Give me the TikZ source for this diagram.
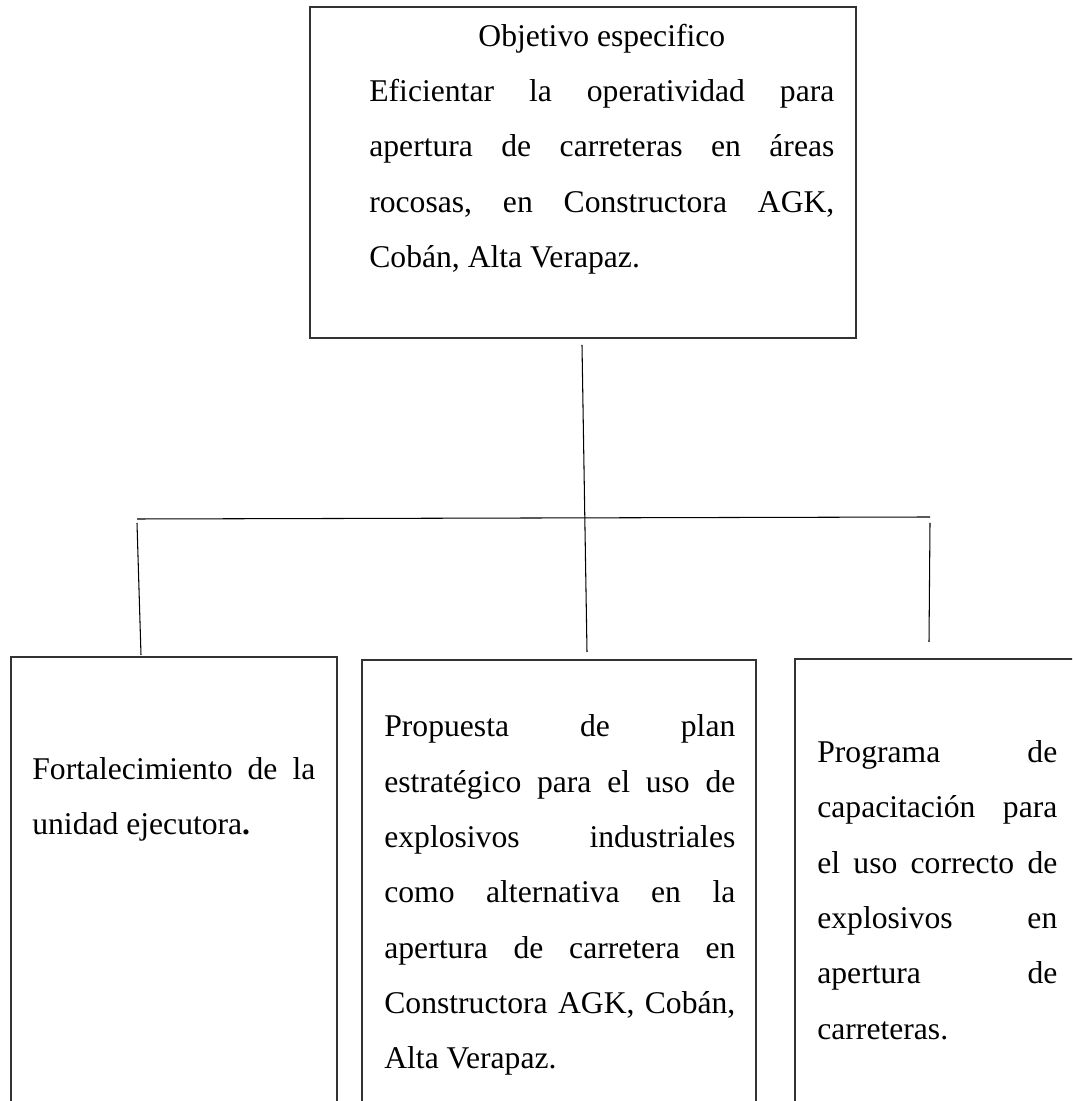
\documentclass[tikz,border=0pt]{standalone}
\usepackage{fontspec}
\setmainfont{Liberation Serif}
\usetikzlibrary{calc}
\setlength{\parindent}{0pt}
\frenchspacing

\tikzset{
  caja/.style={draw=black!80, line width=1.5pt, rectangle, inner sep=0pt, outer sep=0pt},
  texto/.style={anchor=north west, inner sep=0pt, align=justify, font=\fontsize{18}{31.5}\selectfont},
  linea/.style={draw=black, line width=0.6pt}
}

\begin{document}
\begin{tikzpicture}
                  \path[use as bounding box, clip] (0,0) rectangle (21.44,22.02);
                  \node[caja, minimum width=10.92cm, minimum height=6.62cm] (Obj) at (11.66,18.57) {};
                  \node[caja, minimum width=6.52cm, minimum height=10cm, anchor=north west] (Fort) at (0.22,8.88) {};
                  \node[caja, minimum width=7.88cm, minimum height=10cm, anchor=north west] (Prop) at (7.24,8.82) {};
                  \node[caja, minimum width=7cm, minimum height=10cm, anchor=north west] (Prog) at (15.9,8.84) {};
                  \node[texto, text width=9.3cm] (ObjT) at (7.38,21.55) {\makebox[\hsize]{Objetivo especifico}\par
                    Eficientar la operatividad para\linebreak apertura de carreteras en áreas\linebreak rocosas, en Constructora AGK,\linebreak Cobán, Alta Verapaz.};
                  \node[texto, text width=5.66cm] (FortT) at (0.64,6.88) {Fortalecimiento de la\linebreak unidad ejecutora\textbf{.}};
                  \node[texto, text width=7.02cm] (PropT) at (7.68,7.73) {Propuesta de plan\linebreak estratégico para el uso de\linebreak explosivos industriales\linebreak como alternativa en la\linebreak apertura de carretera en\linebreak Constructora AGK, Cobán,\linebreak Alta Verapaz.};
                  \node[texto, text width=4.8cm] (ProgT) at (16.34,7.22) {Programa de\linebreak capacitación para\linebreak el uso correcto de\linebreak explosivos en\linebreak apertura de\linebreak carreteras.};
                  \coordinate (busL) at (2.74,11.64);
                  \coordinate (busR) at (18.6,11.68);
                  \path[linea] ($(Obj.south)+(-0.02,-0.14)$) edge ($(Prop.north)+(0.56,0.16)$)
                  (busL) edge (busR)
                  ($(busL)+(0,-0.08)$) edge ($(Fort.north west)+(2.6,0.04)$)
                  ($(busR)+(0,-0.12)$) edge ($(Prog.north west)+(2.68,0.34)$);
              \end{tikzpicture}
\end{document}
